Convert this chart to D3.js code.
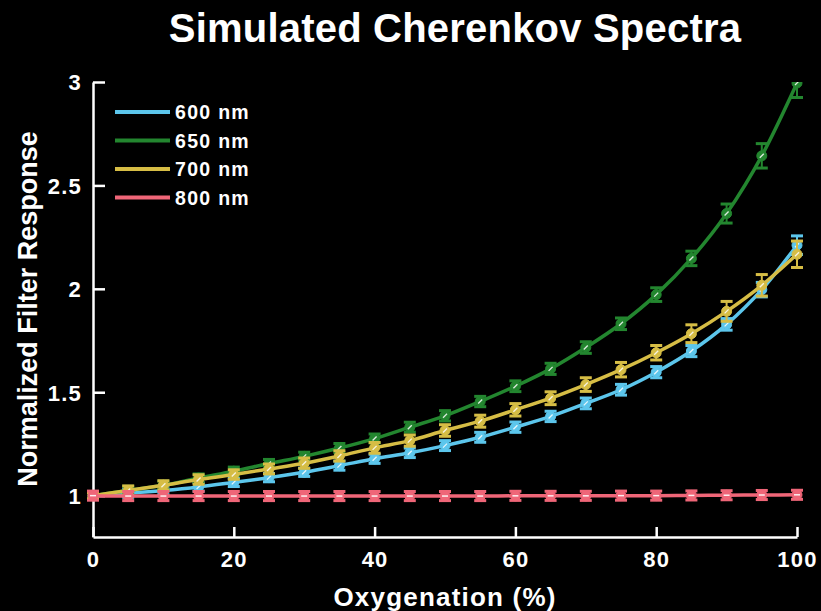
<!DOCTYPE html>
<html><head><meta charset="utf-8">
<script src="https://cdn.jsdelivr.net/npm/d3@7"></script>
<style>
html,body{margin:0;padding:0;background:#000;}
svg{display:block;}
text{font-family:"Liberation Sans",Arial,sans-serif;font-weight:bold;fill:#fff;}
</style></head>
<body>
<script>
// ---- data ----
const oxygenation = [0,5,10,15,20,25,30,35,40,45,50,55,60,65,70,75,80,85,90,95,100];
const seriesNames = ["600 nm","650 nm","700 nm","800 nm"];
const seriesColors = ["#5cc6ec","#23862f","#d6bd45","#ef6678"];
const values600 = [1.000,1.012,1.025,1.042,1.064,1.087,1.113,1.145,1.178,1.207,1.242,1.282,1.331,1.383,1.446,1.512,1.597,1.699,1.828,1.996,2.211];
const values650 = [1.000,1.025,1.050,1.085,1.118,1.155,1.190,1.230,1.276,1.331,1.386,1.455,1.529,1.613,1.716,1.831,1.972,2.147,2.364,2.643,2.995];
const values700 = [1.000,1.025,1.050,1.078,1.102,1.129,1.157,1.192,1.231,1.266,1.315,1.360,1.415,1.471,1.537,1.609,1.691,1.783,1.891,2.017,2.167];
const values800 = [1.000,0.998,0.998,0.998,0.998,0.998,0.998,0.998,0.998,0.998,0.998,0.998,0.999,0.999,0.999,1.000,1.000,1.001,1.002,1.003,1.004];
const errors600 = [0.015,0.02,0.02,0.02,0.02,0.02,0.02,0.022,0.022,0.023,0.024,0.024,0.025,0.025,0.026,0.026,0.027,0.027,0.028,0.035,0.045];
const errors650 = [0.015,0.02,0.02,0.02,0.02,0.02,0.02,0.022,0.022,0.024,0.025,0.025,0.026,0.027,0.028,0.028,0.033,0.035,0.046,0.059,0.07];
const errors700 = [0.015,0.022,0.022,0.023,0.023,0.024,0.025,0.025,0.026,0.027,0.028,0.029,0.03,0.031,0.033,0.035,0.035,0.043,0.048,0.052,0.064];
const errors800 = [0.022,0.022,0.022,0.022,0.022,0.022,0.022,0.022,0.022,0.022,0.022,0.022,0.022,0.022,0.022,0.022,0.022,0.022,0.022,0.022,0.022];
const xTicks = [0,20,40,60,80,100];
const yTicks = [1,1.5,2,2.5,3];
const chartTitle = "Simulated Cherenkov Spectra";
const xTitle = "Oxygenation (%)";
const yTitle = "Normalized Filter Response";

const allValues = [values600, values650, values700, values800];
const allErrors = [errors600, errors650, errors700, errors800];

// ---- layout ----
const W = 821, H = 611;
const svg = d3.select("body").append("svg").attr("width", W).attr("height", H);
svg.append("rect").attr("width", W).attr("height", H).attr("fill", "#000");

const x = d3.scaleLinear().domain([0,100]).range([93,797]);
const y = d3.scaleLinear().domain([0.8,3]).range([537,82]);

svg.append("defs").append("clipPath").attr("id","clip")
  .append("rect").attr("x", 80).attr("y", y(3)).attr("width", 740).attr("height", y(0.8)-y(3)+10);

// axes
const xAxis = svg.append("g").attr("transform", `translate(0,${y(0.8)})`)
  .call(d3.axisBottom(x).tickValues(xTicks).tickFormat(d3.format("d")).tickSizeInner(-10).tickSizeOuter(0).tickPadding(14));
const yAxis = svg.append("g").attr("transform", `translate(${x(0)},0)`)
  .call(d3.axisLeft(y).tickValues(yTicks).tickFormat(d => String(d)).tickSizeInner(-12).tickSizeOuter(0).tickPadding(11));
[xAxis, yAxis].forEach(g => {
  g.select(".domain").attr("stroke", "#fff").attr("stroke-width", 2.5);
  g.selectAll(".tick line").attr("stroke", "#fff").attr("stroke-width", 2.5);
  g.selectAll(".tick text").attr("fill", "#fff").style("font-size", "22px")
    .style("font-family", '"Liberation Sans",Arial,sans-serif').style("font-weight", "bold").style("letter-spacing","1.2px");
});
xAxis.selectAll(".tick text").attr("dy", "0.71em");
yAxis.selectAll(".tick text").attr("dy", "0.36em");

// series
const line = d3.line().x((d,i) => x(oxygenation[i])).y(d => y(d)).curve(d3.curveMonotoneX);
const plot = svg.append("g").attr("clip-path", "url(#clip)");
allValues.forEach((vals, s) => {
  const col = seriesColors[s];
  const g = plot.append("g");
  g.append("path").datum(vals).attr("d", line).attr("fill", "none")
    .attr("stroke", col).attr("stroke-width", 3.5).attr("stroke-linejoin","round");
  vals.forEach((v, i) => {
    const cx = x(oxygenation[i]), e = allErrors[s][i];
    const yt = y(v + e), yb = y(v - e);
    g.append("line").attr("x1", cx).attr("x2", cx).attr("y1", yt).attr("y2", yb).attr("stroke", col).attr("stroke-width", 2);
    [yt, yb].forEach(yy => g.append("line").attr("x1", cx-6).attr("x2", cx+6).attr("y1", yy).attr("y2", yy)
      .attr("stroke", col).attr("stroke-width", 3));
    g.append("circle").attr("cx", cx).attr("cy", y(v)).attr("r", 5).attr("fill", col)
      .attr("stroke", col).attr("stroke-width", 1);
    if (s === 3) {
      g.append("line").attr("x1", cx-3).attr("x2", cx+3).attr("y1", y(v)).attr("y2", y(v))
        .attr("stroke", "#fff").attr("stroke-width", 1.5).attr("opacity", 0.9);
    } else {
      g.append("line").attr("x1", cx-2).attr("x2", cx+2).attr("y1", y(v)+2).attr("y2", y(v)-2)
        .attr("stroke", "#fff").attr("stroke-width", 1.3).attr("opacity", 0.85);
    }
  });
});

// legend
const legend = svg.append("g");
seriesNames.forEach((name, i) => {
  const ly = 112 + i * 28.5;
  legend.append("line").attr("x1", 115).attr("x2", 170).attr("y1", ly).attr("y2", ly)
    .attr("stroke", seriesColors[i]).attr("stroke-width", 4);
  legend.append("text").attr("x", 175).attr("y", ly + 7).style("font-size", "19.5px").style("letter-spacing","1.3px").text(name);
});

// titles
svg.append("text").attr("x", 455).attr("y", 42).attr("text-anchor", "middle").style("font-size", "40px").style("letter-spacing","0.2px").text(chartTitle);
svg.append("text").attr("x", 445).attr("y", 606).attr("text-anchor", "middle").style("font-size", "26px").style("letter-spacing","1.2px").text(xTitle);
svg.append("text").attr("transform", "translate(37,309) rotate(-90)").attr("text-anchor", "middle").style("font-size", "27px").text(yTitle);
</script>
</body></html>
